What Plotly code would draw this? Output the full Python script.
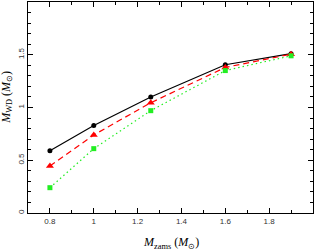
import plotly.graph_objects as go

m_zams = [0.8, 1.0, 1.26, 1.6, 1.9]
m_wd_black = [0.59, 0.83, 1.10, 1.405, 1.51]
m_wd_red = [0.445, 0.74, 1.045, 1.38, 1.505]
m_wd_green = [0.24, 0.61, 0.97, 1.35, 1.49]

x_tickvals = [0.8, 1.0, 1.2, 1.4, 1.6, 1.8]
x_ticktext = ["0.8", "1", "1.2", "1.4", "1.6", "1.8"]
y_tickvals = [0, 0.5, 1, 1.5, 2]
y_ticktext = ["0", "0.5", "1", "1.5", "2"]

fig = go.Figure()
fig.add_trace(go.Scatter(x=m_zams, y=m_wd_black, mode="lines+markers",
                         line=dict(color="black", width=1.2),
                         marker=dict(symbol="circle", size=5, color="black")))
fig.add_trace(go.Scatter(x=m_zams, y=m_wd_red, mode="lines+markers",
                         line=dict(color="red", width=1.2, dash="6px,4px"),
                         marker=dict(symbol="triangle-up", size=7, color="red")))
fig.add_trace(go.Scatter(x=m_zams, y=m_wd_green, mode="lines+markers",
                         line=dict(color="#22ee22", width=1.2, dash="1.5px,3px"),
                         marker=dict(symbol="square", size=5, color="#22ee22")))

axis_common = dict(showgrid=False, zeroline=False, showline=True, linecolor="black",
                   linewidth=1, mirror="allticks", ticks="inside", ticklen=5,
                   tickcolor="black", automargin=False,
                   tickfont=dict(family="Liberation Sans", size=8, color="#333"))

fig.update_xaxes(range=[0.7, 2.0], tickvals=x_tickvals, ticktext=x_ticktext,
                 minor=dict(dtick=0.1, tick0=0.7, ticks="inside", ticklen=3, tickcolor="black"),
                 **axis_common)
fig.update_yaxes(range=[0, 2.0], tickvals=y_tickvals, ticktext=y_ticktext, tickangle=-90,
                 minor=dict(dtick=0.1, tick0=0, ticks="inside", ticklen=3, tickcolor="black"),
                 **axis_common)

title_font = dict(family="Liberation Serif", size=12, color="black")
fig.add_annotation(text="<i>M</i><sub>zams</sub> (<i>M</i><sub>⊙</sub>)",
                   xref="paper", yref="paper", x=0.502, y=-0.142, yanchor="middle",
                   showarrow=False, font=title_font)
fig.add_annotation(text="<i>M</i><sub>WD</sub> (<i>M</i><sub>⊙</sub>)",
                   xref="paper", yref="paper", x=-0.074, y=0.55, xanchor="center",
                   yanchor="middle", textangle=-90, showarrow=False, font=title_font)

fig.update_layout(width=314, height=250, showlegend=False,
                  margin=dict(l=28, r=1, t=2, b=37),
                  plot_bgcolor="white", paper_bgcolor="white")

fig.write_html("out.html", config={"displayModeBar": False},
               post_script="document.body.style.margin='0';document.body.style.overflow='hidden';")
